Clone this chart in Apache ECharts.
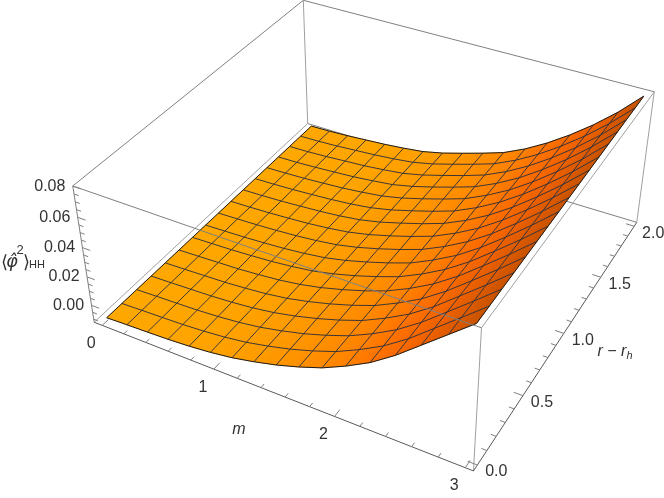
<!DOCTYPE html>
<html><head><meta charset="utf-8">
<style>html,body{margin:0;padding:0;background:#fff}#c{width:664px;height:498px}</style>
<script src="https://cdn.jsdelivr.net/npm/echarts@6/dist/echarts.min.js"></script>
</head><body><div id="c"></div>
<script>
// ---- data ----
const mTicks = [0,1,2,3];
const rTicks = [0.0,0.5,1.0,1.5,2.0];
const zTicks = [0.00,0.02,0.04,0.06,0.08];
const mGridCount = 16, rGridCount = 16;
// z over the m grid (17 nodes), one list per r grid line
const z_r00=[-.0100,-.0094,-.0089,-.0083,-.0073,-.0058,-.0036,-.0004,.0034,.0081,.0136,.0209,.0293,.0400,.0525,.0650,.0775];
const z_r01=[-.0100,-.0094,-.0089,-.0083,-.0073,-.0058,-.0036,-.0004,.0034,.0081,.0136,.0209,.0293,.0399,.0524,.0649,.0775];
const z_r02=[-.0100,-.0094,-.0089,-.0083,-.0073,-.0058,-.0036,-.0004,.0034,.0081,.0136,.0208,.0293,.0399,.0523,.0648,.0776];
const z_r03=[-.0100,-.0095,-.0089,-.0083,-.0073,-.0058,-.0036,-.0004,.0035,.0081,.0135,.0208,.0292,.0398,.0522,.0647,.0776];
const z_r04=[-.0100,-.0095,-.0089,-.0083,-.0072,-.0058,-.0036,-.0004,.0035,.0081,.0135,.0208,.0292,.0398,.0520,.0646,.0777];
const z_r05=[-.0100,-.0095,-.0089,-.0083,-.0072,-.0058,-.0036,-.0005,.0035,.0081,.0135,.0207,.0292,.0397,.0519,.0645,.0777];
const z_r06=[-.0100,-.0095,-.0090,-.0082,-.0072,-.0057,-.0037,-.0005,.0035,.0082,.0135,.0207,.0292,.0396,.0518,.0644,.0778];
const z_r07=[-.0100,-.0095,-.0090,-.0082,-.0072,-.0057,-.0037,-.0005,.0036,.0082,.0134,.0207,.0291,.0396,.0516,.0643,.0778];
const z_r08=[-.0100,-.0095,-.0090,-.0082,-.0072,-.0057,-.0037,-.0005,.0036,.0082,.0134,.0206,.0291,.0395,.0515,.0642,.0779];
const z_r09=[-.0100,-.0096,-.0090,-.0082,-.0072,-.0057,-.0037,-.0005,.0036,.0082,.0134,.0206,.0291,.0395,.0514,.0641,.0779];
const z_r10=[-.0100,-.0096,-.0090,-.0081,-.0071,-.0057,-.0037,-.0005,.0037,.0082,.0134,.0205,.0291,.0394,.0512,.0640,.0780];
const z_r11=[-.0100,-.0096,-.0090,-.0081,-.0071,-.0057,-.0037,-.0005,.0037,.0082,.0133,.0205,.0291,.0394,.0511,.0639,.0780];
const z_r12=[-.0100,-.0096,-.0090,-.0081,-.0071,-.0056,-.0037,-.0005,.0037,.0083,.0133,.0205,.0290,.0393,.0510,.0638,.0781];
const z_r13=[-.0100,-.0097,-.0090,-.0081,-.0071,-.0056,-.0038,-.0005,.0037,.0083,.0133,.0204,.0290,.0393,.0508,.0637,.0781];
const z_r14=[-.0100,-.0097,-.0090,-.0080,-.0071,-.0056,-.0038,-.0005,.0038,.0083,.0133,.0204,.0290,.0392,.0507,.0636,.0782];
const z_r15=[-.0100,-.0097,-.0090,-.0080,-.0070,-.0056,-.0038,-.0005,.0038,.0083,.0132,.0203,.0290,.0392,.0506,.0635,.0782];
const z_r16=[-.0100,-.0097,-.0090,-.0080,-.0070,-.0056,-.0038,-.0005,.0038,.0083,.0132,.0203,.0290,.0391,.0505,.0634,.0783];
const surfaceRows=[z_r00,z_r01,z_r02,z_r03,z_r04,z_r05,z_r06,z_r07,z_r08,z_r09,z_r10,z_r11,z_r12,z_r13,z_r14,z_r15,z_r16];
// shading colour at each m grid line
const shade=['#FFA800','#FFA700','#FFA600','#FFA500','#FFA400','#FFA200','#FF9F00','#FF9B00','#FF9600','#FF9000','#FF8900','#FF8000','#FF7300','#F96900','#EE6100','#DC5A00','#C85200'];

// ---- view ----
const boxM=[-0.075,3.06], boxR=[-0.04,2.04], boxZ=[-0.0122,0.0801];
// screen position of the 8 box corners: [mSide,rSide,zSide,x,y]
const calib=[[0,0,0,94,322],[1,0,0,473,471],[1,1,0,637,222],[0,1,0,308,124],
             [0,0,1,73,186],[1,0,1,482,328],[1,1,1,654,92],[0,1,1,303,0]];
function solve(A,b){const n=b.length;for(let i=0;i<n;i++){let p=i;for(let k=i+1;k<n;k++)if(Math.abs(A[k][i])>Math.abs(A[p][i]))p=k;
  [A[i],A[p]]=[A[p],A[i]];[b[i],b[p]]=[b[p],b[i]];
  for(let k=i+1;k<n;k++){const f=A[k][i]/A[i][i];for(let c=i;c<n;c++)A[k][c]-=f*A[i][c];b[k]-=f*b[i];}}
  const x=new Array(n);for(let i=n-1;i>=0;i--){let s=b[i];for(let c=i+1;c<n;c++)s-=A[i][c]*x[c];x[i]=s/A[i][i];}return x;}
const cam=(function(){const N=Array.from({length:11},()=>new Array(11).fill(0)),B=new Array(11).fill(0);
  function add(row,v){for(let i=0;i<11;i++){B[i]+=row[i]*v;for(let j=0;j<11;j++)N[i][j]+=row[i]*row[j];}}
  calib.forEach(([X,Y,Z,x,y])=>{add([X,Y,Z,1,0,0,0,0,-x*X,-x*Y,-x*Z],x);add([0,0,0,0,X,Y,Z,1,-y*X,-y*Y,-y*Z],y);});
  return solve(N,B);})();
function project(m,r,z){const X=(m-boxM[0])/(boxM[1]-boxM[0]),Y=(r-boxR[0])/(boxR[1]-boxR[0]),Z=(z-boxZ[0])/(boxZ[1]-boxZ[0]);
  const w=cam[8]*X+cam[9]*Y+cam[10]*Z+1;
  return [(cam[0]*X+cam[1]*Y+cam[2]*Z+cam[3])/w,(cam[4]*X+cam[5]*Y+cam[6]*Z+cam[7])/w];}
const mAt=k=>3*k/mGridCount, rAt=j=>2*j/rGridCount;
const node=(k,j,api)=>api.coord(project(mAt(k),rAt(j),surfaceRows[j][k]));

const cells=[];for(let j=rGridCount-1;j>=0;j--)for(let k=0;k<mGridCount;k++)cells.push([k,j]);
const meshLines=[];
for(let k=1;k<mGridCount;k++)meshLines.push(['m',k]);
for(let j=1;j<rGridCount;j++)meshLines.push(['r',j]);

const [m0,m1]=boxM,[r0,r1]=boxR,[z0,z1]=boxZ;
const light='#a0a0a0',mid='#808080',dark='#5a5a5a';
const backEdges=[[[m0,r1,z0],[m1,r1,z0],mid],[[m0,r0,z0],[m0,r1,z0],light],[[m0,r1,z0],[m0,r1,z1],light],
                 [[m1,r1,z0],[m1,r1,z1],light],[[m0,r0,z1],[m0,r1,z1],mid],[[m0,r1,z1],[m1,r1,z1],mid]];
const frontEdges=[[[m0,r0,z0],[m0,r0,z1],mid],[[m0,r0,z1],[m1,r0,z1],mid],[[m1,r0,z1],[m1,r1,z1],light],
                  [[m1,r0,z0],[m1,r0,z1],light],[[m0,r0,z0],[m1,r0,z0],dark],[[m1,r0,z0],[m1,r1,z0],dark]];
const tickMarks=[];
for(let i=0;i<=15;i++){const v=i*0.2,maj=i%5===0;tickMarks.push([[v,r0,z0],[v,r0+(maj?.05:.028),z0]]);}
for(let i=0;i<=20;i++){const v=i*0.1,maj=i%5===0;tickMarks.push([[m1,v,z0],[m1-(maj?.07:.04),v,z0]]);}
for(let i=-2;i<=16;i++){const v=i*0.005,maj=i%4===0;tickMarks.push([[m0,r0,v],[m0+(maj?.07:.04),r0,v]]);}

const textColor='#333333',fontFam='"Liberation Sans",Arial,sans-serif';
const tickTexts=[];
mTicks.forEach(v=>tickTexts.push([String(v),[v,r0,z0],-11,18]));
rTicks.forEach(v=>tickTexts.push([v.toFixed(1),[m1,v,z0],19,7]));
zTicks.forEach(v=>tickTexts.push([v.toFixed(2),[m0,r0,v],-23,0]));

function lineSeries(items,z2,draw){return {type:'custom',coordinateSystem:'cartesian2d',clip:false,silent:true,z:z2,data:items.map((_,i)=>[i]),renderItem:(p,api)=>draw(items[p.dataIndex],api)};}
const seg=(e,api,color,w)=>({type:'line',shape:{x1:api.coord(project(...e[0]))[0],y1:api.coord(project(...e[0]))[1],x2:api.coord(project(...e[1]))[0],y2:api.coord(project(...e[1]))[1]},style:{stroke:color,lineWidth:w,fill:null}});

const option={animation:false,backgroundColor:'#fff',
 grid:{left:0,right:0,top:0,bottom:0},
 xAxis:{type:'value',min:0,max:664,show:false},
 yAxis:{type:'value',min:0,max:498,inverse:true,show:false},
 series:[
  lineSeries(backEdges,1,(e,api)=>seg(e,api,e[2],1)),
  lineSeries(cells,2,(c,api)=>{const [k,j]=c;
    const a=node(k,j,api),b=node(k+1,j,api),d=node(k+1,j+1,api),e=node(k,j+1,api);
    const ax=(a[0]+e[0])/2,ay=(a[1]+e[1])/2,bx=(b[0]+d[0])/2,by=(b[1]+d[1])/2;
    let dx=e[0]-a[0],dy=e[1]-a[1];const L=dx*dx+dy*dy;let vx=bx-ax,vy=by-ay;const t=(vx*dx+vy*dy)/L;vx-=t*dx;vy-=t*dy;
    const g=new echarts.graphic.LinearGradient(ax,ay,ax+vx,ay+vy,[{offset:0,color:shade[k]},{offset:1,color:shade[k+1]}],true);
    return {type:'polygon',shape:{points:[a,b,d,e]},style:{fill:g,stroke:g,lineWidth:0.6}};}),
  lineSeries(meshLines,3,(l,api)=>{const pts=[];
    if(l[0]==='m'){for(let j=0;j<=rGridCount;j++)pts.push(node(l[1],j,api));}
    else{for(let k=0;k<=mGridCount;k++)pts.push(node(k,l[1],api));}
    return {type:'polyline',shape:{points:pts},style:{stroke:'rgba(45,45,55,0.92)',lineWidth:1,fill:null}};}),
  lineSeries([0],4,(o,api)=>{const pts=[];
    for(let k=0;k<=mGridCount;k++)pts.push(node(k,0,api));
    for(let j=1;j<=rGridCount;j++)pts.push(node(mGridCount,j,api));
    for(let k=mGridCount-1;k>=0;k--)pts.push(node(k,rGridCount,api));
    for(let j=rGridCount-1;j>=0;j--)pts.push(node(0,j,api));
    return {type:'polygon',shape:{points:pts},style:{fill:null,stroke:'#1a1a1a',lineWidth:1}};}),
  lineSeries(frontEdges,5,(e,api)=>seg(e,api,e[2],1)),
  lineSeries(tickMarks,5,(e,api)=>seg(e,api,'#808080',1)),
  lineSeries(tickTexts,6,(t,api)=>{const p=api.coord(project(...t[1]));
    return {type:'text',x:p[0]+t[2],y:p[1]+t[3],style:{text:t[0],fill:textColor,font:'16px '+fontFam,textAlign:'center',textVerticalAlign:'middle'}};})
 ],
 graphic:[
  {type:'text',x:239,y:430,style:{text:'m',fill:textColor,font:'italic 16px '+fontFam,textAlign:'center',textVerticalAlign:'middle'}},
  {type:'text',x:615,y:352,style:{rich:{a:{fontStyle:'italic',fontSize:16,fontFamily:'"Liberation Sans"',fill:textColor},s:{fontStyle:'italic',fontSize:11,fontFamily:'"Liberation Sans"',fill:textColor,verticalAlign:'bottom',padding:[8,0,0,0]}},text:'{a|r − r}{s|h}',fill:textColor,textAlign:'center',textVerticalAlign:'middle'}},
  {type:'text',x:1,y:263,style:{text:'⟨',fill:textColor,font:'18px "DejaVu Sans"',textAlign:'left',textVerticalAlign:'middle'}},
  {type:'text',x:12,y:262,style:{text:'φ\u0302',fill:textColor,font:'italic 18px "DejaVu Sans"',textAlign:'center',textVerticalAlign:'middle'}},
  {type:'text',x:20,y:250,style:{text:'2',fill:textColor,font:'13px '+fontFam,textAlign:'center',textVerticalAlign:'middle'}},
  {type:'text',x:23,y:263,style:{text:'⟩',fill:textColor,font:'18px "DejaVu Sans"',textAlign:'left',textVerticalAlign:'middle'}},
  {type:'text',x:29,y:265,style:{text:'HH',fill:textColor,font:'11px '+fontFam,textAlign:'left',textVerticalAlign:'middle'}}
 ]};
const chart=echarts.init(document.getElementById('c'),null,{renderer:'canvas'});
chart.setOption(option);
</script></body></html>
